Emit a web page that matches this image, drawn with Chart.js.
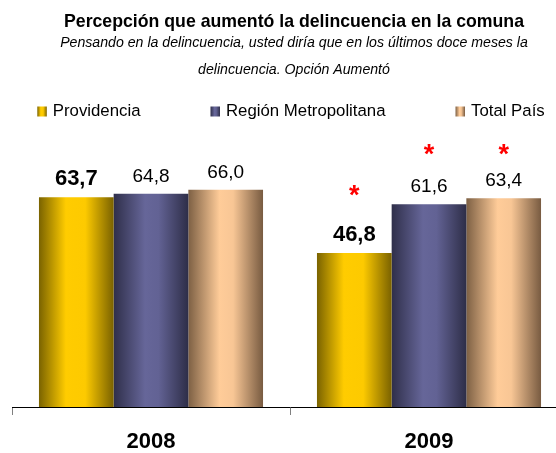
<!DOCTYPE html>
<html>
<head>
<meta charset="utf-8">
<script src="https://cdn.jsdelivr.net/npm/chart.js@4.4.1/dist/chart.umd.min.js"></script>
<style>
html, body { margin: 0; padding: 0; background: #ffffff; width: 556px; height: 453px; overflow: hidden; }
#wrap { position: relative; width: 586px; height: 469px; }
canvas { display: block; }
</style>
</head>
<body>
<div id="wrap"><canvas id="chart" width="586" height="469"></canvas></div>
<script>
// ---- Data ----
const categorias = ['2008', '2009'];
const series = ['Providencia', 'Región Metropolitana', 'Total País'];
const providencia = [63.7, 46.8];
const regionMetropolitana = [64.8, 61.6];
const totalPais = [66.0, 63.4];
// height (in value units) of the red significance asterisks (null = none)
const asteriscoProvidencia = [null, 66.3];
const asteriscoRegion = [null, 78.8];
const asteriscoTotal = [null, 78.8];
const titulo = 'Percepción que aumentó la delincuencia en la comuna';
const subtitulo = ['Pensando en la delincuencia, usted diría que en los últimos doce meses la', 'delincuencia. Opción Aumentó'];

// ---- Styles ----
const FONT = '"Liberation Sans", Arial, Helvetica, sans-serif';
const gradientes = [
  [[0, '#7a6300'], [0.36, '#ffcc00'], [0.62, '#fdca00'], [1, '#7a6200']],
  [[0, '#2f2f4a'], [0.42, '#666699'], [0.6, '#626294'], [1, '#2e2e48']],
  [[0, '#7d6044'], [0.42, '#ffcc99'], [0.6, '#f8c695'], [1, '#785b41']]
];
const negrita = [true, false, false];

function hacerGradiente(ctx, x0, x1, stops) {
  const g = ctx.createLinearGradient(x0, 0, x1, 0);
  stops.forEach(s => g.addColorStop(s[0], s[1]));
  return g;
}

const pluginBarras = {
  id: 'barrasGradiente',
  afterLayout(chart) {
    chart.boxes.forEach(b => {
      if (b.options && (b.options.text === titulo || b.options.text === subtitulo)) {
        b.left += 4; b.right += 4;
      }
    });
  },
  beforeDatasetsDraw(chart) {
    const ctx = chart.ctx;
    chart.data.datasets.forEach((ds, i) => {
      const meta = chart.getDatasetMeta(i);
      meta.data.forEach(el => {
        const g = hacerGradiente(ctx, el.x - el.width / 2, el.x + el.width / 2, gradientes[i]);
        el.options = Object.assign({}, el.options, { backgroundColor: g });
      });
    });
  },
  afterDatasetsDraw(chart) {
    const ctx = chart.ctx;
    const yScale = chart.scales.y;
    chart.data.datasets.forEach((ds, i) => {
      const meta = chart.getDatasetMeta(i);
      meta.data.forEach((el, j) => {
        ctx.save();
        ctx.textAlign = 'center';
        ctx.textBaseline = 'alphabetic';
        ctx.fillStyle = '#000000';
        ctx.font = negrita[i] ? ('bold 22px ' + FONT) : ('19px ' + FONT);
        ctx.fillText(ds.data[j].toFixed(1).replace('.', ','), el.x, el.y - 12);
        const a = ds.asterisco[j];
        if (a !== null && a !== undefined) {
          ctx.font = 'bold 27px ' + FONT;
          ctx.fillStyle = '#ff0000';
          ctx.fillText('*', el.x, yScale.getPixelForValue(a) + 15);
        }
        ctx.restore();
      });
    });
  },
  afterDraw(chart) {
    const ctx = chart.ctx;
    ctx.save();
    ctx.font = '16.8px ' + FONT;
    const box = 9.5, gap = 6, sep = 70;
    const widths = series.map(s => ctx.measureText(s).width);
    const total = widths.reduce((a, w) => a + box + gap + w, 0) + sep * (series.length - 1);
    let x = 291 - total / 2;
    series.forEach((s, i) => {
      ctx.fillStyle = hacerGradiente(ctx, x, x + box, gradientes[i]);
      ctx.fillRect(x, 106.5, box, 10);
      ctx.fillStyle = '#000000';
      ctx.textAlign = 'left';
      ctx.textBaseline = 'alphabetic';
      ctx.fillText(s, x + box + gap, 116);
      x += box + gap + widths[i] + sep;
    });
    ctx.restore();
  }
};

Chart.defaults.font.family = FONT;
Chart.defaults.color = '#000000';

new Chart(document.getElementById('chart'), {
  type: 'bar',
  data: {
    labels: categorias,
    datasets: [
      { label: series[0], data: providencia, asterisco: asteriscoProvidencia, backgroundColor: '#ffcc00' },
      { label: series[1], data: regionMetropolitana, asterisco: asteriscoRegion, backgroundColor: '#666699' },
      { label: series[2], data: totalPais, asterisco: asteriscoTotal, backgroundColor: '#ffcc99' }
    ]
  },
  options: {
    responsive: false,
    animation: false,
    devicePixelRatio: 1,
    layout: { padding: { left: 12, right: 18, top: 0, bottom: 0 } },
    datasets: { bar: { categoryPercentage: 0.806, barPercentage: 1.0, borderWidth: 0 } },
    plugins: {
      legend: { display: false },
      tooltip: { enabled: false },
      title: {
        display: true, text: titulo, color: '#000000',
        font: { size: 17.7, weight: 'bold', lineHeight: 1 },
        padding: { top: 13, bottom: 0 }
      },
      subtitle: {
        display: true, text: subtitulo, color: '#000000',
        font: { size: 14.15, style: 'italic', lineHeight: '27px' },
        padding: { top: -1, bottom: 60 }
      }
    },
    scales: {
      x: {
        offset: true,
        grid: { display: true, drawOnChartArea: false, drawTicks: true, tickLength: 8, color: '#808080', offset: true },
        border: { display: true, color: '#000000', width: 1 },
        ticks: { font: { size: 22, weight: 'bold', lineHeight: 1 }, color: '#000000', padding: 16 }
      },
      y: {
        display: false,
        min: 0, max: 80,
        grid: { display: false }
      }
    }
  },
  plugins: [pluginBarras]
});
</script>
</body>
</html>
